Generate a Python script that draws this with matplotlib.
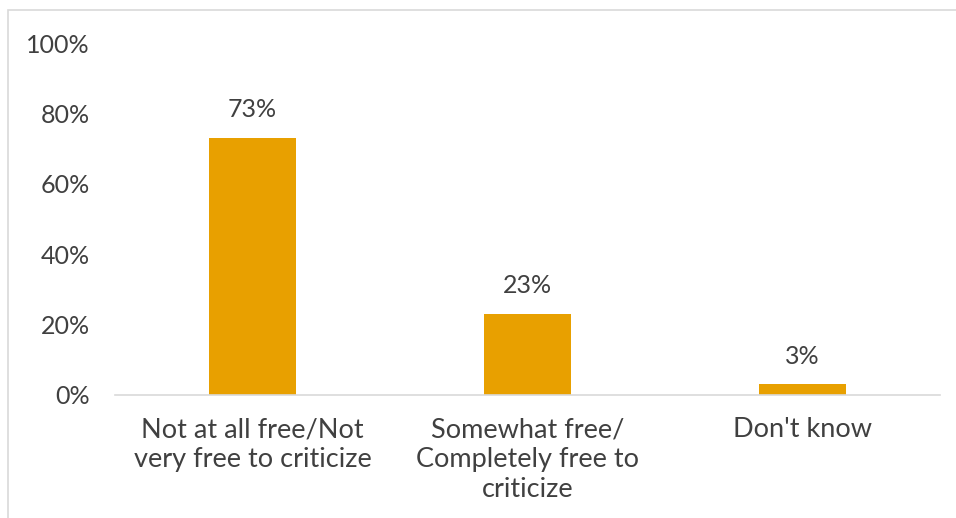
import matplotlib.pyplot as plt
from matplotlib.patches import Rectangle
from matplotlib.ticker import PercentFormatter

plt.rcParams['font.family'] = ['Lato', 'DejaVu Sans']

categories = ["Not at all free/Not\nvery free to criticize",
              "Somewhat free/\nCompletely free to\ncriticize",
              "Don't know"]
values = [73, 23, 3]
yticks = [0, 20, 40, 60, 80, 100]

bar_color = "#E8A000"
text_color = "#404040"


def main() -> None:
    fig = plt.figure(figsize=(9.56, 5.18), dpi=100)
    ax = fig.add_axes([115 / 956, 1 - 395 / 518, 825 / 956, 352 / 518])

    x = range(len(categories))
    bars = ax.bar(x, values, width=0.316, color=bar_color)
    for b, v in zip(bars, values):
        ax.text(b.get_x() + b.get_width() / 2, v + 4.8, f"{v}%",
                ha="center", va="bottom", fontsize=18, color=text_color)

    ax.set_xlim(-0.5, len(categories) - 0.5)
    ax.set_ylim(0, 100)
    ax.set_yticks(yticks)
    ax.yaxis.set_major_formatter(PercentFormatter(decimals=0))
    ax.set_xticks(list(x))
    ax.set_xticklabels(categories, fontsize=19.5, color=text_color, linespacing=1.25)
    ax.tick_params(axis="y", labelsize=18, labelcolor=text_color, length=0, pad=18)
    ax.tick_params(axis="x", length=0, pad=16)

    for side in ["top", "right", "left"]:
        ax.spines[side].set_visible(False)
    ax.spines["bottom"].set_color("#D9D9D9")
    ax.spines["bottom"].set_linewidth(1.2)

    # light border around the chart area
    fig.patches.append(Rectangle((8 / 956, -0.1), 1.2, 1 - 10 / 518 + 0.1,
                                 transform=fig.transFigure, fill=False,
                                 edgecolor="#D9D9D9", linewidth=1.2))

    fig.savefig("out.png", dpi=100)


if __name__ == "__main__":
    main()
